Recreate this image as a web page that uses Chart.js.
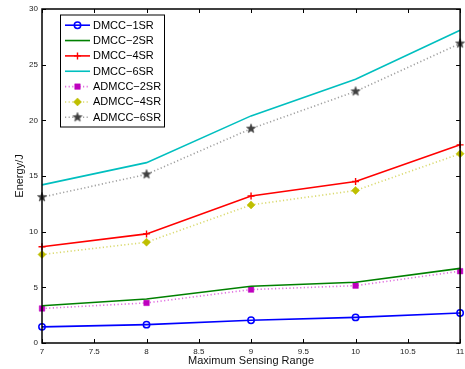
<!DOCTYPE html>
<html>
<head>
<meta charset="utf-8">
<script src="https://cdn.jsdelivr.net/npm/chart.js@4/dist/chart.umd.min.js"></script>
<style>
html,body{margin:0;padding:0;background:#fff;}
canvas{display:block;}
</style>
</head>
<body>
<canvas id="c" width="465" height="369"></canvas>
<script>
// ---- data ----
const ranges = [7, 8, 9, 10, 11];
const dmcc1SR = [1.45, 1.65, 2.05, 2.3, 2.7];
const dmcc2SR = [3.35, 3.95, 5.1, 5.45, 6.7];
const dmcc4SR = [8.65, 9.8, 13.2, 14.5, 17.8];
const dmcc6SR = [14.2, 16.2, 20.4, 23.7, 28.1];
const admcc2SR = [3.1, 3.6, 4.8, 5.15, 6.45];
const admcc4SR = [7.95, 9.05, 12.4, 13.7, 17.0];
const admcc6SR = [13.1, 15.15, 19.25, 22.6, 26.9];
const seriesLabels = ['DMCC\u22121SR','DMCC\u22122SR','DMCC\u22124SR','DMCC\u22126SR','ADMCC\u22122SR','ADMCC\u22124SR','ADMCC\u22126SR'];
const xTitle = 'Maximum Sensing Range';
const yTitle = 'Energy/J';
const xMin = 7, xMax = 11, xStep = 0.5;
const yMin = 0, yMax = 30, yStep = 5;

const FONT = '"Liberation Sans", Arial, Helvetica, sans-serif';

function pts(arr){ return ranges.map((x,i)=>({x:x, y:arr[i]})); }
function fmt(v){ return Number.isInteger(v) ? String(v) : v.toFixed(1); }

// star marker image
function makeStar(color, R){
  const s = Math.ceil(R*2+2);
  const cv = document.createElement('canvas');
  cv.width = s; cv.height = s;
  const g = cv.getContext('2d');
  const cx = s/2, cy = s/2, r = R*0.42;
  g.beginPath();
  for(let i=0;i<10;i++){
    const a = -Math.PI/2 + i*Math.PI/5;
    const rr = (i%2===0)?R:r;
    const px = cx + rr*Math.cos(a), py = cy + rr*Math.sin(a);
    if(i===0) g.moveTo(px,py); else g.lineTo(px,py);
  }
  g.closePath();
  g.fillStyle = color; g.fill();
  g.strokeStyle = color; g.lineWidth = 0.6; g.stroke();
  return cv;
}
const starImg = makeStar('#404040', 4.8);

const datasets = [
  {label: seriesLabels[0], data: pts(dmcc1SR), borderColor:'#0000ff', borderWidth:1.6, pointStyle:'circle', pointRadius:3.2, pointBorderWidth:1.5, pointBorderColor:'#0000ff', pointBackgroundColor:'rgba(0,0,0,0)'},
  {label: seriesLabels[1], data: pts(dmcc2SR), borderColor:'#008000', borderWidth:1.6, pointRadius:0, pointStyle:'line', pointBorderColor:'#008000', pointBackgroundColor:'#008000', pointBorderWidth:1},
  {label: seriesLabels[2], data: pts(dmcc4SR), borderColor:'#ff0000', borderWidth:1.6, pointStyle:'cross', pointRadius:3.5, pointBorderWidth:1.4, pointBorderColor:'#ff0000', pointBackgroundColor:'#ff0000'},
  {label: seriesLabels[3], data: pts(dmcc6SR), borderColor:'#00bfbf', borderWidth:1.6, pointRadius:0, pointStyle:'line', pointBorderColor:'#00bfbf', pointBackgroundColor:'#00bfbf', pointBorderWidth:1},
  {label: seriesLabels[4], data: pts(admcc2SR), borderColor:'#e070e0', borderDash:[1.2,2.4], borderWidth:1.6, pointStyle:'rect', pointRadius:3.9, pointBorderWidth:0.5, pointBorderColor:'#bf00bf', pointBackgroundColor:'#bf00bf'},
  {label: seriesLabels[5], data: pts(admcc4SR), borderColor:'#dada70', borderDash:[1.2,2.4], borderWidth:1.6, pointStyle:'rectRot', pointRadius:4, pointBorderWidth:0.5, pointBorderColor:'#bfbf00', pointBackgroundColor:'#bfbf00'},
  {label: seriesLabels[6], data: pts(admcc6SR), borderColor:'#a0a0a0', borderDash:[1.2,2.4], borderWidth:1.6, pointStyle:starImg, pointRadius:4.5, pointBorderWidth:0, pointBorderColor:'#404040', pointBackgroundColor:'#404040'}
];
datasets.forEach(d=>{ d.tension = 0; d.fill = false; d.clip = false; d.pointHoverRadius = d.pointRadius; });

function drawMarker(ctx, ds, x, y){
  const st = ds.pointStyle, r = ds.pointRadius;
  if(!r) return;
  ctx.save();
  ctx.fillStyle = ds.pointBackgroundColor;
  ctx.strokeStyle = ds.pointBorderColor;
  ctx.lineWidth = ds.pointBorderWidth;
  ctx.setLineDash([]);
  if(st instanceof HTMLCanvasElement){
    ctx.drawImage(st, x - st.width/2, y - st.height/2);
  } else if(st==='circle'){
    ctx.beginPath(); ctx.arc(x,y,r,0,Math.PI*2); ctx.fill(); ctx.stroke();
  } else if(st==='rect'){
    const s = Math.SQRT1_2*r;
    ctx.beginPath(); ctx.rect(x-s,y-s,2*s,2*s); ctx.fill(); if(ctx.lineWidth) ctx.stroke();
  } else if(st==='rectRot'){
    ctx.beginPath(); ctx.moveTo(x-r,y); ctx.lineTo(x,y-r); ctx.lineTo(x+r,y); ctx.lineTo(x,y+r); ctx.closePath(); ctx.fill(); if(ctx.lineWidth) ctx.stroke();
  } else if(st==='cross'){
    ctx.beginPath(); ctx.moveTo(x-r,y); ctx.lineTo(x+r,y); ctx.moveTo(x,y-r); ctx.lineTo(x,y+r); ctx.stroke();
  }
  ctx.restore();
}

const decor = {
  id:'decor',
  afterDraw(chart){
    const ctx = chart.ctx;
    const a = chart.chartArea;
    const xs = chart.scales.x, ys = chart.scales.y;
    ctx.save();
    // frame
    ctx.strokeStyle = '#000'; ctx.lineWidth = 1.5; ctx.setLineDash([]);
    ctx.strokeRect(a.left, a.top, a.right-a.left, a.bottom-a.top);
    // inward ticks
    ctx.lineWidth = 1;
    const tl = 4;
    ctx.beginPath();
    for(let v=xMin; v<=xMax+1e-9; v+=xStep){
      const px = Math.round(xs.getPixelForValue(v))+0.5;
      ctx.moveTo(px, a.bottom); ctx.lineTo(px, a.bottom-tl);
      ctx.moveTo(px, a.top); ctx.lineTo(px, a.top+tl);
    }
    for(let v=yMin; v<=yMax+1e-9; v+=yStep){
      const py = Math.round(ys.getPixelForValue(v))+0.5;
      ctx.moveTo(a.left, py); ctx.lineTo(a.left+tl, py);
      ctx.moveTo(a.right, py); ctx.lineTo(a.right-tl, py);
    }
    ctx.stroke();
    // axis titles
    ctx.fillStyle = '#111';
    ctx.font = '11px ' + FONT;
    ctx.textAlign = 'center'; ctx.textBaseline = 'middle';
    ctx.fillText(xTitle, (a.left+a.right)/2, 361);
    ctx.save();
    ctx.translate(20, (a.top+a.bottom)/2);
    ctx.rotate(-Math.PI/2);
    ctx.fillText(yTitle, 0, 0);
    ctx.restore();
    // legend
    const lx = 60, ly = 14.5, lw = 104, lh = 112;
    ctx.fillStyle = '#fff';
    ctx.fillRect(lx, ly, lw, lh);
    ctx.strokeStyle = '#000'; ctx.lineWidth = 1;
    ctx.strokeRect(lx+0.5, ly+0.5, lw, lh);
    const rowY0 = 25.2, rowH = 15.35;
    chart.data.datasets.forEach((ds, i)=>{
      const y = rowY0 + i*rowH;
      ctx.save();
      ctx.strokeStyle = ds.borderColor; ctx.lineWidth = ds.borderWidth;
      ctx.setLineDash(ds.borderDash || []);
      ctx.beginPath(); ctx.moveTo(65, y); ctx.lineTo(90, y); ctx.stroke();
      ctx.restore();
      drawMarker(ctx, ds, 77.5, y);
      ctx.fillStyle = '#000';
      ctx.font = '11px ' + FONT;
      ctx.textAlign = 'left'; ctx.textBaseline = 'middle';
      ctx.fillText(ds.label, 93, y+0.5);
    });
    ctx.restore();
  }
};

new Chart(document.getElementById('c'), {
  type: 'line',
  data: { datasets: datasets },
  plugins: [decor],
  options: {
    responsive: false,
    animation: false,
    devicePixelRatio: 1,
    layout: { padding: { top: 9, right: 3, left: 0, bottom: 0 } },
    plugins: { legend: { display: false }, tooltip: { enabled: false } },
    scales: {
      x: {
        type: 'linear', min: xMin, max: xMax,
        ticks: { stepSize: xStep, color: '#222', font: { size: 8, family: FONT }, padding: 4, maxRotation: 0, autoSkip: false, callback: (v)=>fmt(v) },
        grid: { display: false, drawTicks: false },
        border: { display: false },
        afterFit(s){ s.height = 26; s.paddingLeft = 0; s.paddingRight = 0; }
      },
      y: {
        type: 'linear', min: yMin, max: yMax,
        ticks: { stepSize: yStep, color: '#222', font: { size: 8, family: FONT }, padding: 4, callback: (v)=>fmt(v) },
        grid: { display: false, drawTicks: false },
        border: { display: false },
        afterFit(s){ s.width = 42; s.paddingTop = 0; s.paddingBottom = 0; }
      }
    }
  }
});
</script>
</body>
</html>
